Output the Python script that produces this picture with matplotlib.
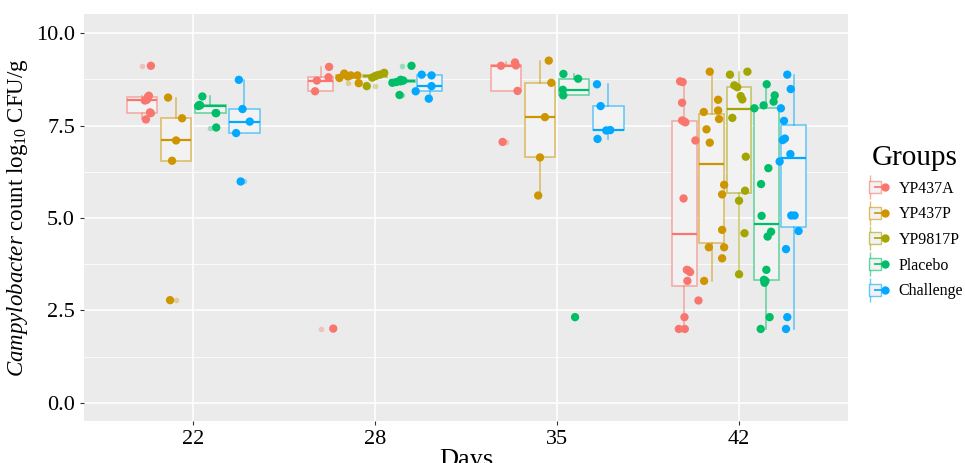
import matplotlib
matplotlib.use("Agg")
import matplotlib.pyplot as plt
from matplotlib.lines import Line2D
from matplotlib.legend_handler import HandlerTuple
from matplotlib.colors import to_rgba
import numpy as np

plt.rcParams["font.family"] = ["Liberation Serif", "DejaVu Serif"]
plt.rcParams["mathtext.fontset"] = "custom"
plt.rcParams["mathtext.rm"] = "Liberation Serif"
plt.rcParams["mathtext.it"] = "Liberation Serif:italic"

days = ["22", "28", "35", "42"]
groups = ["YP437A", "YP437P", "YP9817P", "Placebo", "Challenge"]
colors = ["#F8766D", "#CD9600", "#A3A500", "#00BE67", "#00A9FF"]

# log10 CFU/g, one list per day (22, 28, 35, 42); empty = group not sampled
yp437a = [
    [7.67, 7.84, 7.86, 8.18, 8.20, 8.28, 8.31, 9.12],
    [2.01, 8.43, 8.72, 8.81, 9.09],
    [7.06, 8.44, 9.12, 9.13, 9.21],
    [2.00, 2.00, 2.32, 2.77, 3.30, 3.54, 3.58, 3.60, 5.53, 7.10, 7.59, 7.62, 7.64, 8.12, 8.68, 8.70],
]
yp437p = [
    [2.78, 6.55, 7.10, 7.70, 8.26],
    [8.65, 8.79, 8.83, 8.86, 8.86, 8.91],
    [5.61, 6.64, 7.73, 8.66, 9.26],
    [3.30, 3.91, 4.21, 4.21, 4.68, 5.64, 5.90, 7.04, 7.40, 7.68, 7.87, 7.91, 8.20, 8.96],
]
yp9817p = [
    [],
    [8.57, 8.80, 8.84, 8.86, 8.88, 8.93],
    [],
    [3.48, 4.59, 5.47, 5.74, 6.66, 7.71, 8.21, 8.30, 8.54, 8.59, 8.88, 8.96],
]
placebo = [
    [7.45, 7.84, 7.84, 8.03, 8.05, 8.06, 8.29],
    [8.33, 8.66, 8.68, 8.70, 8.72, 8.74, 9.12],
    [2.32, 8.32, 8.47, 8.77, 8.90],
    [2.00, 2.32, 3.25, 3.30, 3.33, 3.60, 4.50, 4.63, 5.06, 5.92, 6.35, 7.97, 8.05, 8.15, 8.32, 8.62],
]
challenge = [
    [5.99, 7.30, 7.61, 7.95, 8.74],
    [8.23, 8.43, 8.57, 8.86, 8.88],
    [7.14, 7.37, 7.38, 8.03, 8.62],
    [2.00, 2.32, 4.16, 4.65, 5.07, 5.07, 6.53, 6.73, 7.11, 7.15, 7.63, 7.97, 8.49, 8.88],
]

# horizontal jitter of each point
yp437a_jit = [
    [0.022, 0.049, 0.044, 0.016, 0.027, 0.033, 0.038, 0.049],
    [0.070, -0.030, -0.020, 0.044, 0.047],
    [-0.018, 0.064, -0.027, 0.055, 0.050],
    [-0.031, 0.002, 0.0, 0.077, 0.016, 0.031, 0.022, 0.013, -0.005, 0.060, 0.005, -0.005, -0.013, -0.013, -0.010, -0.024],
]
yp437p_jit = [
    [-0.033, -0.022, 0.0, 0.033, -0.044],
    [0.060, -0.046, 0.0, 0.016, 0.053, -0.020],
    [-0.010, 0.0, 0.027, 0.062, 0.048],
    [-0.042, 0.057, -0.016, 0.068, 0.057, 0.057, 0.068, -0.011, -0.029, 0.040, -0.044, 0.035, 0.035, -0.011],
]
yp9817p_jit = [
    [],
    [-0.046, -0.016, 0.0, 0.010, 0.027, 0.050],
    [],
    [0.0, 0.030, 0.0, 0.033, 0.037, -0.037, 0.018, 0.009, -0.010, -0.026, -0.050, 0.046],
]
placebo_jit = [
    [0.033, 0.033, 0.030, -0.066, -0.055, -0.060, -0.043],
    [-0.016, -0.055, -0.033, -0.010, 0.005, -0.010, 0.050],
    [0.005, -0.060, -0.062, 0.022, -0.059],
    [-0.031, 0.018, -0.010, -0.005, -0.013, 0.0, 0.007, 0.026, -0.026, -0.029, 0.011, -0.066, -0.015, 0.040, 0.046, 0.002],
]
challenge_jit = [
    [-0.020, -0.045, 0.030, -0.010, -0.030],
    [-0.005, -0.077, 0.010, 0.010, -0.044],
    [-0.059, -0.011, 0.011, -0.042, -0.062],
    [-0.042, -0.035, -0.042, 0.027, -0.013, 0.005, -0.077, -0.018, -0.060, -0.048, -0.053, -0.070, -0.016, -0.035],
]

data = [yp437a, yp437p, yp9817p, placebo, challenge]
jits = [yp437a_jit, yp437p_jit, yp9817p_jit, placebo_jit, challenge_jit]

fig = plt.figure(figsize=(9.65, 4.63), dpi=100)
ax = fig.add_axes([0.087, 0.0907, 0.792, 0.879])
ax.set_facecolor("#EBEBEB")

for d in range(len(days)):
    present = [g for g in range(len(groups)) if len(data[g][d]) > 0]
    n = len(present)
    step = 0.75 / n
    for k, g in enumerate(present):
        pos = d + (k - (n - 1) / 2) * step
        c = colors[g]
        light = to_rgba(c, 0.6)
        ax.boxplot(data[g][d], positions=[pos], widths=step * 0.9,
                   patch_artist=True, manage_ticks=False, showcaps=False, whis=1.5,
                   boxprops=dict(facecolor="#F2F2F2", edgecolor=light, linewidth=1.1),
                   whiskerprops=dict(color=light, linewidth=1.1),
                   medianprops=dict(color=c, linewidth=1.6),
                   flierprops=dict(marker="o", markerfacecolor=c, markeredgecolor="none",
                                   markersize=4, alpha=0.35),
                   zorder=2)
        ax.scatter(pos + np.array(jits[g][d]), data[g][d], s=36, color=c,
                   edgecolors="none", zorder=3)

ax.set_xlim(-0.6, 3.6)
ax.set_ylim(-0.49, 10.52)
ax.set_xticks(range(len(days)))
ax.set_xticklabels(days)
ax.set_yticks([0, 2.5, 5, 7.5, 10])
ax.set_yticklabels(["0.0", "2.5", "5.0", "7.5", "10.0"])
ax.set_yticks([1.25, 3.75, 6.25, 8.75], minor=True)
ax.grid(which="major", color="white", linewidth=1.1)
ax.grid(which="minor", axis="y", color="white", linewidth=0.55)
ax.set_axisbelow(True)
for s in ax.spines.values():
    s.set_visible(False)
ax.tick_params(which="major", length=3, color="#333333", labelsize=16, labelcolor="black")
ax.tick_params(which="minor", length=0)

ax.set_xlabel("Days", fontsize=19, labelpad=0)
ax.set_ylabel(r"$\mathit{Campylobacter}$ count log$_{10}$ CFU/g", fontsize=16.5, labelpad=4)

handles = []
for c in colors:
    light = to_rgba(c, 0.6)
    handles.append((
        Line2D([], [], marker="|", markersize=17, color=light, ls="", mew=1.0),
        Line2D([], [], marker="s", markersize=9, mfc="#F2F2F2", mec=light, ls="", mew=1.0),
        Line2D([], [], marker="_", markersize=9, color=c, ls="", mew=1.2),
        Line2D([], [], marker="o", markersize=5, color=c, ls=""),
    ))
leg = fig.legend(handles, groups, title="Groups", loc="center left",
                 bbox_to_anchor=(0.888, 0.52), frameon=False, fontsize=11.5,
                 title_fontsize=21, handler_map={tuple: HandlerTuple(ndivide=None)},
                 handlelength=0.8, handletextpad=0.9, labelspacing=0.6)
leg._legend_box.align = "left"

fig.savefig("out.png", dpi=100)
